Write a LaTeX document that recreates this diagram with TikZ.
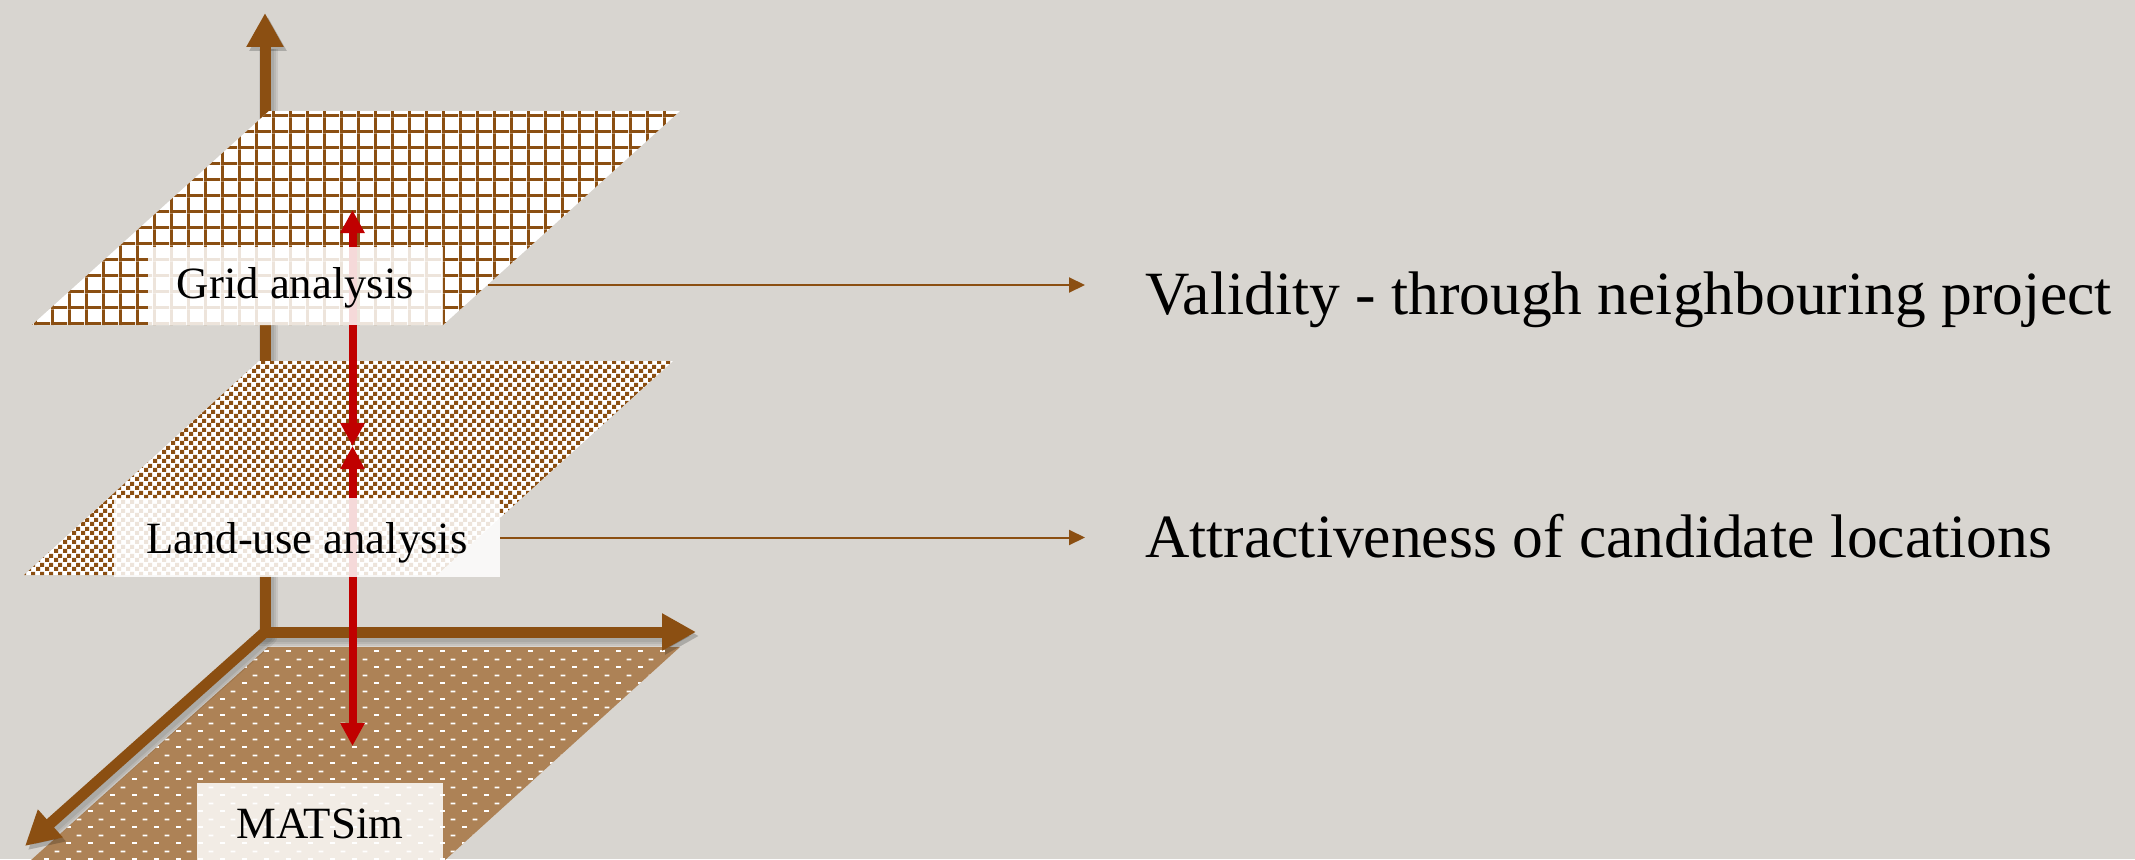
\documentclass[tikz,border=0pt]{standalone}
\usepackage{fontspec}
\setmainfont{Liberation Serif}
\usetikzlibrary{arrows.meta,patterns}

\definecolor{bgstone}{HTML}{D8D5D0}
\definecolor{axisbrown}{HTML}{8B4F12}
\definecolor{siltfill}{HTML}{AD8256}
\definecolor{alertred}{HTML}{C00000}

% square grid of brown bars (top layer)
\pgfdeclarepatternformonly{planegrid}{\pgfpointorigin}{\pgfpoint{17pt}{16.2pt}}{\pgfpoint{17pt}{16.2pt}}{%
  \pgfpathrectangle{\pgfpointorigin}{\pgfpoint{17pt}{3pt}}%
  \pgfpathrectangle{\pgfpointorigin}{\pgfpoint{3pt}{16.2pt}}%
  \pgfusepath{fill}}
% staggered small squares (middle layer)
\pgfdeclarepatternformonly{planedots}{\pgfpointorigin}{\pgfpoint{9pt}{9pt}}{\pgfpoint{9pt}{9pt}}{%
  \pgfpathrectangle{\pgfpointorigin}{\pgfpoint{4.6pt}{4.6pt}}%
  \pgfpathrectangle{\pgfpoint{4.5pt}{4.5pt}}{\pgfpoint{4.6pt}{4.6pt}}%
  \pgfusepath{fill}}
% short light dashes (bottom layer)
\pgfdeclarepatternformonly{planedash}{\pgfpointorigin}{\pgfpoint{22pt}{16pt}}{\pgfpoint{22pt}{16pt}}{%
  \pgfpathrectangle{\pgfpointorigin}{\pgfpoint{5pt}{2pt}}%
  \pgfpathrectangle{\pgfpoint{11pt}{8pt}}{\pgfpoint{5pt}{2pt}}%
  \pgfusepath{fill}}

\begin{document}
\begin{tikzpicture}[x=1pt,y=-1pt,
  axistips/.style={{Triangle[length=34pt,width=35pt]}-{Triangle[length=34pt,width=35pt]}},
  axistip/.style={-{Triangle[length=34pt,width=35pt]}},
  axis/.style={draw=axisbrown, line width=11pt, line join=miter},
  axisshadow/.style={draw=black, line width=#1, opacity=0.07, line join=miter},
  relarrow/.style={draw=alertred, line width=8pt,
    {Triangle[length=23pt,width=23pt]}-{Triangle[length=23pt,width=23pt]}},
  link/.style={draw=axisbrown, line width=2pt, -{Triangle[length=16pt,width=15pt]}},
  layerbox/.style={fill=white, fill opacity=0.85, text opacity=1, inner sep=0pt,
    anchor=base, font=\fontsize{44.7}{50}\selectfont},
  note/.style={anchor=base west, inner xsep=60pt, inner ysep=0pt,
    font=\fontsize{61.5}{70}\selectfont},
]
\useasboundingbox (0,0) rectangle (2135,859);
\fill[bgstone] (0,0) rectangle (2135,859);

% axis end points
\coordinate (O) at (265,632);
\coordinate (ytip) at (265,13);
\coordinate (xtip) at (696,632);
\coordinate (ztip) at (25,846);

% bottom layer: MATSim
\path[fill=siltfill, postaction={pattern=planedash, pattern color=white}]
  (268,647) -- (680,647) -- (444,861) -- (30,861) -- cycle;

% soft axis shadows
\begin{scope}[transform canvas={xshift=3pt,yshift=-4pt}]
  \foreach \w in {19pt,15pt,11pt}{
    \draw[axisshadow=\w, axistips] (ytip) -- (O) -- (xtip);
    \draw[axisshadow=\w, axistip, line cap=round] (O) -- (ztip);
  }
\end{scope}

% axes
\draw[axis, axistips] (ytip) -- (O) -- (xtip);
\draw[axis, axistip, line cap=round] (O) -- (ztip);

% top layer: grid
\path[fill=white, postaction={pattern=planegrid, pattern color=axisbrown}]
  (269,111) -- (680,111) -- (443,325) -- (32,325) -- cycle;
\coordinate (gridout) at (487.5,285);

% middle layer: land use
\path[fill=white, postaction={pattern=planedots, pattern color=axisbrown}]
  (259,361) -- (673,361) -- (437,575) -- (24,575) -- cycle;

% links between layers
\coordinate (r1) at (352.5,210);
\coordinate (r2) at (352.5,446);
\coordinate (r3) at (352.5,746);
\draw[relarrow] (r1) -- (r2);
\draw[relarrow] (r2) -- (r3);

% layer captions
\node[layerbox, minimum width=295pt, text height=51pt, text depth=27pt]
  (gridbox) at (295.5,298) {Grid analysis};
\node[layerbox, minimum width=386.5pt, text height=55pt, text depth=24pt]
  (landbox) at (307,553) {Land-use analysis};
\node[layerbox, minimum width=246pt, text height=55pt, text depth=25pt]
  (matsimbox) at (320,838) {MATSim};

% outcomes
\node[note] (validity) at (1085,314) {Validity - through neighbouring project};
\node[note] (attract) at (1085,557) {Attractiveness of candidate locations};

\draw[link] (gridout) -- (validity.west |- gridout);
\draw[link] (landbox.east) -- (attract.west |- landbox.east);
\end{tikzpicture}
\end{document}
